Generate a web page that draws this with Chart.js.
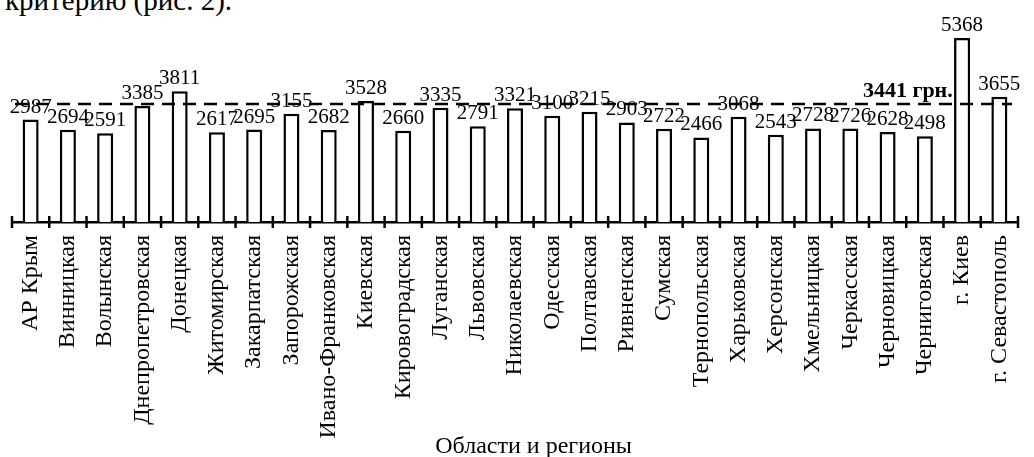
<!DOCTYPE html>
<html>
<head>
<meta charset="utf-8">
<script src="https://cdn.jsdelivr.net/npm/chart.js@4"></script>
<style>
  html, body { margin: 0; padding: 0; background: #fff; }
  #wrap { position: relative; width: 1034px; height: 457px; overflow: hidden; }
  #head { position: absolute; left: 5px; top: -16px; font: 29px "Liberation Serif", serif; color: #000; white-space: nowrap; }
  canvas { position: absolute; left: 0; top: 0; }
</style>
</head>
<body>
<div id="wrap">
  <div id="head">критерию (рис. 2).</div>
  <canvas id="chart" width="1034" height="457"></canvas>
</div>
<script>
const regions = [
  "АР Крым", "Винницкая", "Волынская", "Днепропетровская", "Донецкая",
  "Житомирская", "Закарпатская", "Запорожская", "Ивано-Франковская", "Киевская",
  "Кировоградская", "Луганская", "Львовская", "Николаевская", "Одесская",
  "Полтавская", "Ривненская", "Сумская", "Тернопольская", "Харьковская",
  "Херсонская", "Хмельницкая", "Черкасская", "Черновицкая", "Черниговская",
  "г. Киев", "г. Севастополь"
];
const values = [
  2987, 2694, 2591, 3385, 3811,
  2617, 2695, 3155, 2682, 3528,
  2660, 3335, 2791, 3321, 3100,
  3215, 2903, 2722, 2466, 3068,
  2543, 2728, 2726, 2628, 2498,
  5368, 3655
];
const average = 3441;
const averageLabel = "3441 грн.";
const axisTitle = "Области и регионы";

const serif = "'Liberation Serif', 'Times New Roman', serif";

// value labels, dashed average line, axis title and ticks crossing the axis
const extras = {
  id: "extras",
  afterDatasetsDraw(chart) {
    const { ctx, chartArea } = chart;
    const x = chart.scales.x;
    const y = chart.scales.y;
    const meta = chart.getDatasetMeta(0);

    ctx.save();
    ctx.fillStyle = "#000";
    ctx.font = "21px " + serif;
    ctx.textAlign = "center";
    ctx.textBaseline = "bottom";
    meta.data.forEach((bar, i) => {
      ctx.fillText(String(values[i]), bar.x, bar.y - 2);
    });

    const ay = y.getPixelForValue(average);
    ctx.strokeStyle = "#000";
    ctx.lineWidth = 2.5;
    ctx.setLineDash([13, 8]);
    ctx.beginPath();
    ctx.moveTo(chartArea.left + 3, ay);
    ctx.lineTo(chartArea.right - 6, ay);
    ctx.stroke();
    ctx.setLineDash([]);

    ctx.font = "bold 22px " + serif;
    ctx.textAlign = "right";
    ctx.fillText(averageLabel, x.getPixelForValue(24.75), ay - 2);

    ctx.font = "24px " + serif;
    ctx.textAlign = "center";
    ctx.textBaseline = "alphabetic";
    ctx.fillText(axisTitle, x.getPixelForValue(13.5), chart.height - 4);

    ctx.lineWidth = 2.5;
    const n = regions.length;
    for (let i = 0; i <= n; i++) {
      const px = x.getPixelForValue(i - 0.5);
      ctx.beginPath();
      ctx.moveTo(px, chartArea.bottom - 6);
      ctx.lineTo(px, chartArea.bottom + 6);
      ctx.stroke();
    }
    ctx.restore();
  }
};

new Chart(document.getElementById("chart"), {
  type: "bar",
  data: {
    labels: regions,
    datasets: [{
      data: values,
      backgroundColor: "#fff",
      borderColor: "#000",
      borderWidth: 2.5,
      borderSkipped: "bottom",
      barPercentage: 0.43,
      categoryPercentage: 1
    }]
  },
  options: {
    responsive: false,
    animation: false,
    layout: { padding: { top: 30, left: 12, right: 16, bottom: 0 } },
    plugins: {
      legend: { display: false },
      tooltip: { enabled: false }
    },
    scales: {
      x: {
        grid: { display: false, drawTicks: false },
        border: { display: true, color: "#000", width: 2.5 },
        ticks: {
          color: "#000",
          font: { family: serif, size: 24 },
          maxRotation: 90,
          minRotation: 90,
          autoSkip: false,
          padding: 13
        },
        afterFit(scale) {
          scale.height = 235;
          scale.paddingLeft = 0;
          scale.paddingRight = 0;
        }
      },
      y: {
        display: false,
        min: 0,
        max: 5600
      }
    }
  },
  plugins: [extras]
});
</script>
</body>
</html>
